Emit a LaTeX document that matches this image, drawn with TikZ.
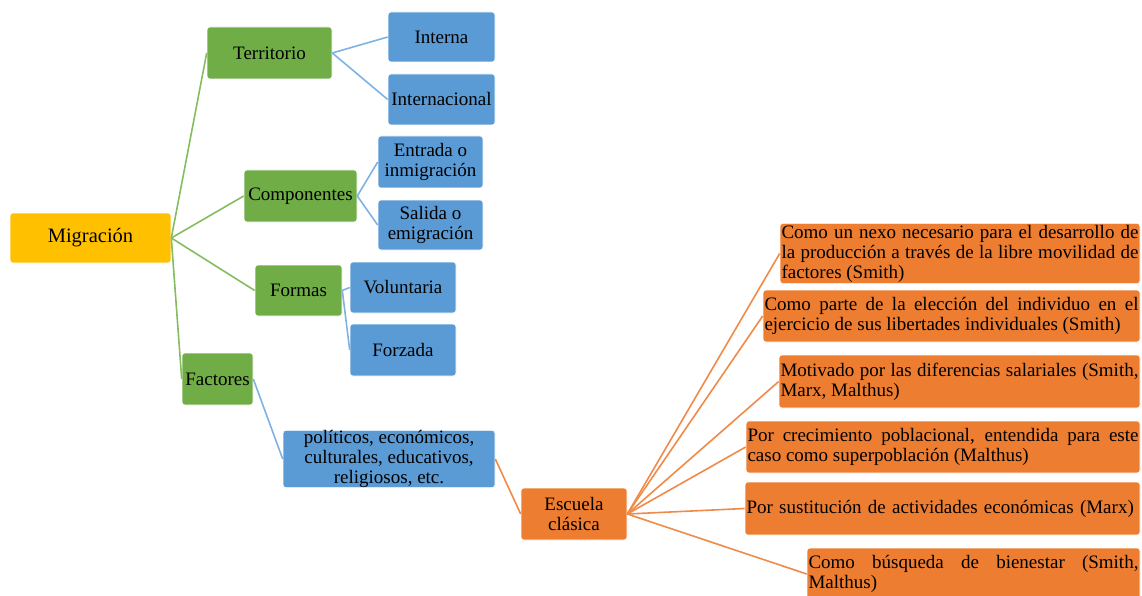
\documentclass[tikz,border=0pt]{standalone}
\usepackage{fontspec}
\setmainfont{Liberation Serif}
\definecolor{cyel}{HTML}{FFC000}
\definecolor{cgreen}{HTML}{70AD47}
\definecolor{cblue}{HTML}{5B9BD5}
\definecolor{corange}{HTML}{ED7D31}
\definecolor{lgreen}{HTML}{84BD5F}
\definecolor{lblue}{HTML}{7FB2E2}
\definecolor{lorange}{HTML}{F08A48}
\hbadness=10000
\tikzset{
  bx/.style={draw=white, line width=0.6pt, rounded corners=3pt, inner sep=1.5pt, align=center,
    font=\fontsize{19}{20}\selectfont},
  gbox/.style={bx, fill=cgreen},
  bbox/.style={bx, fill=cblue},
  obox/.style={bx, fill=corange},
  ojust/.style={obox, align=justify},
  gline/.style={draw=lgreen, line width=1.6pt},
  bline/.style={draw=lblue, line width=1.6pt},
  oline/.style={draw=lorange, line width=1.6pt},
}
\begin{document}
\begin{tikzpicture}[x=1pt,y=-1pt]
\useasboundingbox (0,0) rectangle (1142,596);
% level 0
\node[bx, fill=cyel, minimum width=161pt, minimum height=50pt, font=\fontsize{20.5}{22}\selectfont] (mig) at (90.5,238) {Migración};
% level 1
\node[gbox, minimum width=125pt, minimum height=52pt] (ter) at (269.5,53) {Territorio};
\node[gbox, minimum width=113pt, minimum height=52pt] (com) at (300.5,196) {Componentes};
\node[gbox, minimum width=87pt, minimum height=51pt] (for) at (298.5,290.5) {Formas};
\node[gbox, minimum width=71pt, minimum height=52pt] (fac) at (217.5,379) {Factores};
% level 2
\node[bbox, minimum width=107pt, minimum height=50pt] (int) at (441.5,37) {Interna};
\node[bbox, minimum width=107pt, minimum height=51pt] (inl) at (441.5,99.5) {Internacional};
\node[bbox, minimum width=105pt, minimum height=52pt] (ent) at (430.5,162) {Entrada o\\inmigración};
\node[bbox, minimum width=105pt, minimum height=50pt] (sal) at (430.5,225) {Salida o\\emigración};
\node[bbox, minimum width=106pt, minimum height=51pt] (vol) at (403,287.5) {Voluntaria};
\node[bbox, minimum width=106pt, minimum height=52pt] (fzd) at (403,350) {Forzada};
\node[bbox, minimum width=212pt, minimum height=52pt, inner sep=0pt] (pol) at (389,459) {políticos, económicos,\\culturales, educativos,\\religiosos, etc.};
% level 3
\node[obox, minimum width=106pt, minimum height=52pt] (esc) at (574,514) {Escuela\\clásica};
% level 4
\node[ojust, text width=357pt, minimum height=55pt] (o1) at (960,253.5) {Como un nexo necesario para el desarrollo de\linebreak la producción a través de la libre movilidad de\linebreak factores (Smith)};
\node[ojust, text width=374pt, minimum height=52pt] (o2) at (951.5,316) {Como parte de la elección del individuo en el\linebreak ejercicio de sus libertades individuales (Smith)};
\node[ojust, text width=358pt, minimum height=53pt] (o3) at (959.5,381.5) {Motivado por las diferencias salariales (Smith,\linebreak Marx, Malthus)};
\node[ojust, text width=391pt, minimum height=52pt] (o4) at (943,447) {Por crecimiento poblacional, entendida para este\linebreak caso como superpoblación (Malthus)};
\node[obox, align=left, text width=392pt, minimum height=53pt] (o5) at (942.5,508.5) {Por sustitución de actividades económicas (Marx)};
\node[ojust, text width=330pt, minimum height=52pt] (o6) at (973.5,574) {Como búsqueda de bienestar (Smith,\linebreak Malthus)};
% connectors
\draw[gline] (mig.east) -- (ter.west);
\draw[gline] (mig.east) -- (com.west);
\draw[gline] (mig.east) -- (for.west);
\draw[gline] (mig.east) -- (fac.west);
\draw[bline] (ter.east) -- (int.west);
\draw[bline] (ter.east) -- (inl.west);
\draw[bline] (com.east) -- (ent.west);
\draw[bline] (com.east) -- (sal.west);
\draw[bline] (for.east) -- (vol.west);
\draw[bline] (for.east) -- (fzd.west);
\draw[bline] (fac.east) -- (pol.west);
\draw[oline] (pol.east) -- (esc.west);
\foreach \t in {o1,o2,o3,o4,o5,o6} \draw[oline] (esc.east) -- (\t.west);
\end{tikzpicture}
\end{document}
